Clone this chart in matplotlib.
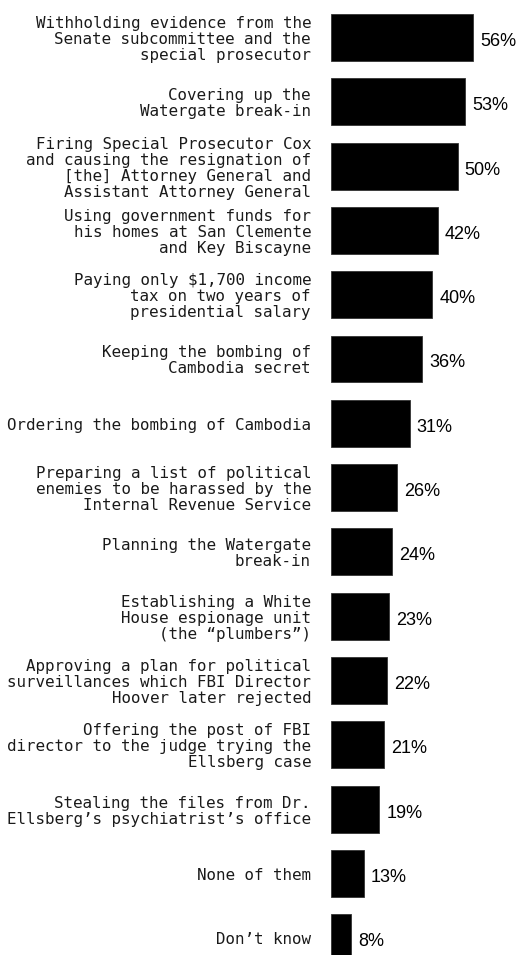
import matplotlib; matplotlib.use("Agg")
import matplotlib.pyplot as plt

labels = [
    "Withholding evidence from the\nSenate subcommittee and the\nspecial prosecutor",
    "Covering up the\nWatergate break-in",
    "Firing Special Prosecutor Cox\nand causing the resignation of\n[the] Attorney General and\nAssistant Attorney General",
    "Using government funds for\nhis homes at San Clemente\nand Key Biscayne",
    "Paying only $1,700 income\ntax on two years of\npresidential salary",
    "Keeping the bombing of\nCambodia secret",
    "Ordering the bombing of Cambodia",
    "Preparing a list of political\nenemies to be harassed by the\nInternal Revenue Service",
    "Planning the Watergate\nbreak-in",
    "Establishing a White\nHouse espionage unit\n(the \u201cplumbers\u201d)",
    "Approving a plan for political\nsurveillances which FBI Director\nHoover later rejected",
    "Offering the post of FBI\ndirector to the judge trying the\nEllsberg case",
    "Stealing the files from Dr.\nEllsberg\u2019s psychiatrist\u2019s office",
    "None of them",
    "Don\u2019t know",
]
values = [56, 53, 50, 42, 40, 36, 31, 26, 24, 23, 22, 21, 19, 13, 8]

W, H, DPI = 516, 955, 100
fig = plt.figure(figsize=(W/DPI, H/DPI), dpi=DPI)
ax = fig.add_axes([331/W, 0, 1 - 331/W, 1])
ys = list(range(len(values)))
ax.barh(ys, values, height=0.73, color="black", edgecolor="#333333", lw=0.6)
ax.set_xlim(0, 185/2.536)
ax.set_ylim(14.27, -0.583)
ax.axis("off")

for y, v, lab in zip(ys, values, labels):
    ax.annotate(lab, (0, y), xytext=(-20, -2), textcoords="offset pixels",
                ha="right", va="center", family="DejaVu Sans Mono", fontsize=11.4,
                color="#1a1a1a", linespacing=1.08, annotation_clip=False)
    ax.annotate(f"{v}%", (v, y), xytext=(7, -4), textcoords="offset pixels",
                ha="left", va="center", family="Liberation Sans", fontsize=13,
                color="black", annotation_clip=False)

fig.savefig("out.png", dpi=DPI)
